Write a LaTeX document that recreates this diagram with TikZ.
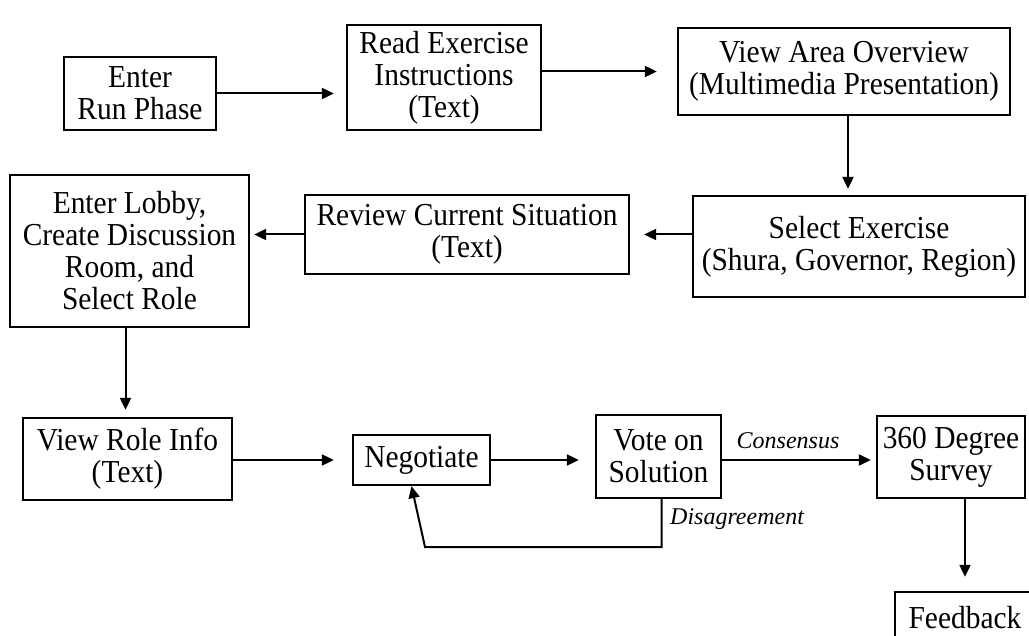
\documentclass[tikz,border=0pt]{standalone}
\usepackage{fontspec}
\setmainfont{Liberation Serif}
\newfontfamily\boxfont{Liberation Serif}[FakeStretch=0.92]
\usetikzlibrary{arrows.meta,calc}
\newcommand{\fs}{\boxfont\fontsize{32}{32}\selectfont}
\newcommand{\bx}[6]{\node[box, minimum width={#4-#2}, minimum height={#5-#3}] (#1) at ({(#2+#4)/2},{(#3+#5)/2}) {#6};}
\tikzset{
  box/.style={draw, line width=2.3pt, align=center, inner sep=0pt, font=\fs},
  arr/.style={line width=2pt, -{Triangle[length=12pt,width=11pt]}},
  lbl/.style={font=\fontsize{24}{26}\selectfont\itshape, inner sep=0pt}
}
\begin{document}
\begin{tikzpicture}[x=1pt,y=-1pt]
\useasboundingbox (0,0) rectangle (1029,636);
\clip (0,0) rectangle (1029,636);
\bx{enter}{64}{57}{216}{130}{Enter\\Run Phase}
\bx{read}{347}{25}{541}{130}{Read Exercise\\Instructions\\(Text)}
\bx{view}{678}{28}{1010}{115}{View Area Overview\\(Multimedia Presentation)}
\bx{select}{693}{196}{1025}{297}{Select Exercise\\(Shura, Governor, Region)}
\bx{review}{305}{195}{629}{274}{Review Current Situation\\(Text)}
\bx{lobby}{10}{175}{249}{327}{Enter Lobby,\\Create Discussion\\Room, and\\Select Role}
\bx{role}{23}{418}{232}{500}{View Role Info\\(Text)}
\bx{neg}{353}{435}{490}{485}{Negotiate}
\bx{vote}{596}{415}{721}{498}{Vote on\\Solution}
\bx{survey}{877}{416}{1025}{498}{360 Degree\\Survey}
\node[box, minimum width=140, minimum height=52] (fb) at (965,618) {Feedback};
\coordinate (d2) at (425,547);
\draw[arr, shorten >=12pt] (enter.east) -- (enter.east -| read.west);
\draw[arr, shorten >=20pt] (read.east |- view.west) -- (view.west);
\draw[arr, shorten >=6pt] ([xshift=4]view.south) -- ([xshift=4]view.south |- select.north);
\draw[arr, shorten >=14pt] (select.west |- review.east) -- (review.east);
\draw[arr, shorten >=4pt] (review.west) -- (review.west -| lobby.east);
\draw[arr, shorten >=7pt] ([xshift=-4]lobby.south) -- ([xshift=-4]lobby.south |- role.north);
\draw[arr, shorten >=18pt] (role.east |- neg.west) -- (neg.west);
\draw[arr, shorten >=16pt] (neg.east) -- (neg.east -| vote.west);
\draw[arr, shorten >=5pt] (vote.east |- neg.east) -- (vote.east |- neg.east -| survey.west);
\draw[arr] ([xshift=3]vote.south) |- (d2) -- ([xshift=-10]neg.south);
\draw[arr, shorten >=14pt] ([xshift=14]survey.south) -- ([xshift=14]survey.south |- fb.north);
\node[lbl] (cons) at (788,441) {Consensus};
\node[lbl, anchor=west] (dis) at (670,519) {Disagreement};
\end{tikzpicture}
\end{document}
